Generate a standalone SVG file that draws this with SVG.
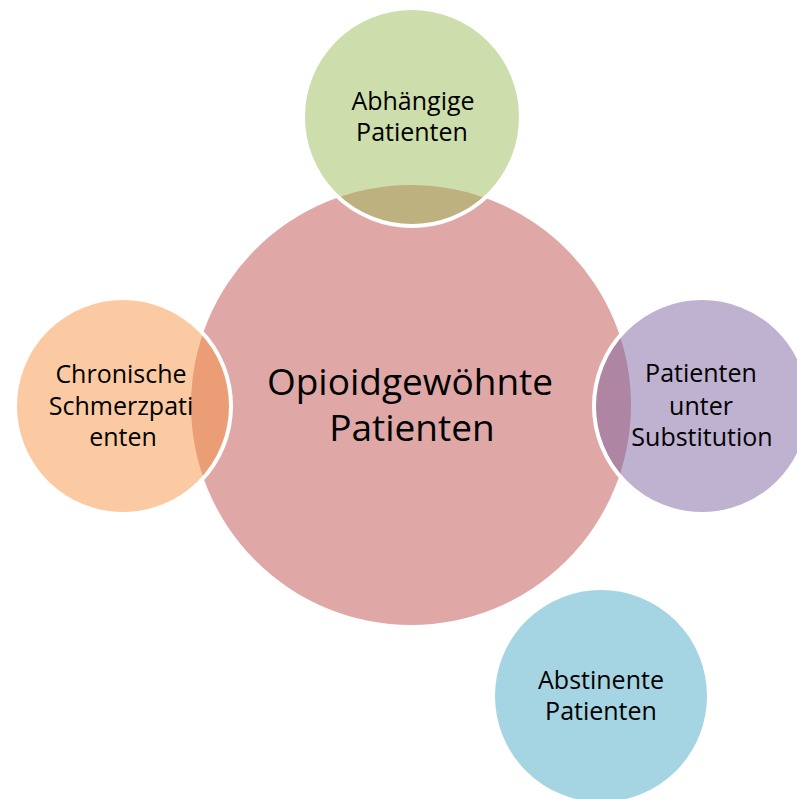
<svg xmlns="http://www.w3.org/2000/svg" width="797" height="799" viewBox="0 0 797 799">
  <style>
    .sat { fill-opacity: 0.5; stroke: #ffffff; stroke-width: 4; }
    text { font-family: "Open Sans", "Noto Sans", sans-serif; fill: #000000; text-anchor: middle; }
    .small { font-size: 25px; }
    .big { font-size: 37px; }
  </style>
  <rect width="797" height="799" fill="#ffffff"/>
  <g id="main">
    <circle cx="411" cy="405" r="220" fill="#dfa7a6"/>
    <text class="big" x="410" y="395">Opioidgewöhnte</text>
    <text class="big" x="412" y="441">Patienten</text>
  </g>
  <g id="abhaengige">
    <circle class="sat" cx="412" cy="117" r="109" fill="#9bbb59"/>
    <text class="small" x="413" y="110">Abhängige</text>
    <text class="small" x="412" y="141">Patienten</text>
  </g>
  <g id="chronische">
    <circle class="sat" cx="123" cy="406" r="108" fill="#f79646"/>
    <text class="small" x="121" y="383">Chronische</text>
    <text class="small" x="121" y="415">Schmerzpati</text>
    <text class="small" x="123" y="446">enten</text>
  </g>
  <g id="substitution">
    <circle class="sat" cx="702" cy="406" r="108" fill="#8064a2"/>
    <text class="small" x="701" y="382">Patienten</text>
    <text class="small" x="701" y="415">unter</text>
    <text class="small" x="702" y="446">Substitution</text>
  </g>
  <g id="abstinente">
    <circle class="sat" cx="601" cy="696" r="108" fill="#4bacc6"/>
    <text class="small" x="601" y="689">Abstinente</text>
    <text class="small" x="601" y="720">Patienten</text>
  </g>
  <g id="connectors"/>
</svg>
